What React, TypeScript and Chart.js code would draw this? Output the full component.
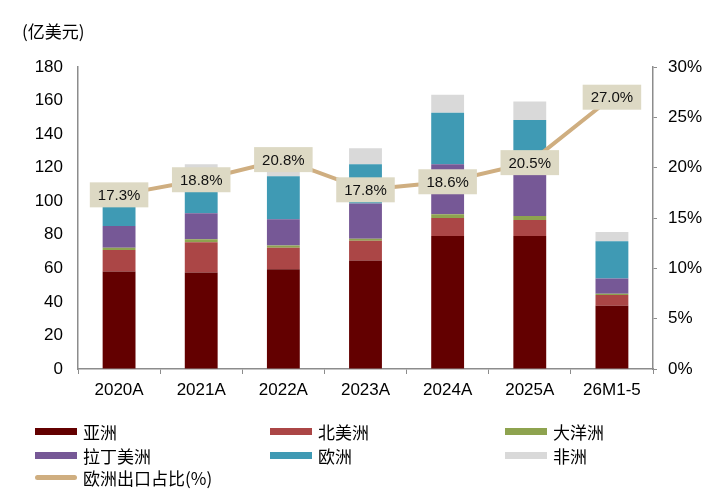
import React, { useEffect, useRef } from "react";
import { Chart, registerables } from "chart.js";

Chart.register(...registerables);

const categories = ["2020A", "2021A", "2022A", "2023A", "2024A", "2025A", "26M1-5"];
const asia = [58.1, 57.5, 59.5, 64.6, 79.2, 79.2, 37.7];
const northAmerica = [12.9, 18.1, 12.7, 11.8, 10.8, 9.6, 6.4];
const oceania = [1.2, 1.8, 1.4, 1.2, 2.2, 2.4, 0.8];
const latinAmerica = [13.0, 15.4, 15.6, 21.1, 29.9, 24.5, 9.0];
const europe = [18.5, 23.0, 25.7, 23.4, 30.7, 32.7, 22.3];
const africa = [3.0, 6.3, 8.6, 9.4, 10.6, 11.0, 5.4];
const europeShare = [17.3, 18.8, 20.8, 17.8, 18.6, 20.5, 27.0];

const unitLabel = "(亿美元)";

const COLORS = {
  asia: "#630000",
  na: "#ab4646",
  oce: "#8ea34f",
  lat: "#765896",
  eu: "#3f9ab4",
  af: "#d9d9d9",
  line: "#cfae80",
  labelBg: "#ddd9c4",
};

const NUM_FONT = "'Liberation Sans', Arial, sans-serif";
const CJK_FONT = "'Noto Sans CJK SC', 'Noto Sans', sans-serif";

const legendItems = [
  { label: "亚洲", color: COLORS.asia, kind: "box", col: 0, row: 0 },
  { label: "北美洲", color: COLORS.na, kind: "box", col: 1, row: 0 },
  { label: "大洋洲", color: COLORS.oce, kind: "box", col: 2, row: 0 },
  { label: "拉丁美洲", color: COLORS.lat, kind: "box", col: 0, row: 1 },
  { label: "欧洲", color: COLORS.eu, kind: "box", col: 1, row: 1 },
  { label: "非洲", color: COLORS.af, kind: "box", col: 2, row: 1 },
  { label: "欧洲出口占比(%)", color: COLORS.line, kind: "line", col: 0, row: 2 },
];

const labelPlugin = {
  id: "shareLabels",
  afterDatasetsDraw(chart: any) {
    const ctx = chart.ctx;
    const idx = chart.data.datasets.findIndex((d: any) => d.type === "line");
    if (idx < 0) return;
    const meta = chart.getDatasetMeta(idx);
    ctx.save();
    ctx.font = `15px ${NUM_FONT}`;
    ctx.textAlign = "center";
    ctx.textBaseline = "middle";
    meta.data.forEach((pt: any, i: number) => {
      const text = europeShare[i].toFixed(1) + "%";
      const w = ctx.measureText(text).width + 16;
      const h = 25;
      ctx.fillStyle = COLORS.labelBg;
      ctx.fillRect(pt.x - w / 2, pt.y - h / 2, w, h);
      ctx.fillStyle = "#111";
      ctx.fillText(text, pt.x, pt.y + 1);
    });
    ctx.restore();
  },
};

function ChartView() {
  const ref = useRef<HTMLCanvasElement | null>(null);
  useEffect(() => {
    if (!ref.current) return;
    const barDs = (label: string, data: number[], color: string) => ({
      type: "bar" as const,
      label,
      data,
      backgroundColor: color,
      borderWidth: 0,
      yAxisID: "y",
      stack: "s",
      order: 1,
      barPercentage: 0.4,
      categoryPercentage: 1.0,
    });
    const chart = new Chart(ref.current, {
      type: "bar",
      data: {
        labels: categories,
        datasets: [
          barDs("亚洲", asia, COLORS.asia),
          barDs("北美洲", northAmerica, COLORS.na),
          barDs("大洋洲", oceania, COLORS.oce),
          barDs("拉丁美洲", latinAmerica, COLORS.lat),
          barDs("欧洲", europe, COLORS.eu),
          barDs("非洲", africa, COLORS.af),
          {
            type: "line" as const,
            label: "欧洲出口占比(%)",
            data: europeShare,
            borderColor: COLORS.line,
            backgroundColor: COLORS.line,
            borderWidth: 4,
            pointRadius: 0,
            yAxisID: "y1",
            order: 0,
            tension: 0,
          } as any,
        ],
      },
      options: {
        animation: false,
        responsive: false,
        maintainAspectRatio: false,
        layout: { padding: { top: 67, left: 0, right: 0, bottom: 0 } },
        plugins: {
          legend: { display: false },
          tooltip: { enabled: false },
        },
        scales: {
          x: {
            stacked: true,
            grid: {
              offset: true,
              drawOnChartArea: false,
              drawTicks: true,
              tickLength: 5,
              color: "#8c8c8c",
            },
            border: { color: "#8c8c8c", width: 1.5 },
            ticks: {
              font: { size: 17, family: NUM_FONT },
              color: "#000",
              padding: 6,
              maxRotation: 0,
              autoSkip: false,
            },
            afterFit: (s: any) => {
              s.height = 504 - 369;
            },
          },
          y: {
            stacked: true,
            position: "left",
            min: 0,
            max: 180,
            ticks: {
              stepSize: 20,
              font: { size: 17, family: NUM_FONT },
              color: "#000",
              padding: 15,
            },
            grid: { drawOnChartArea: false, drawTicks: false },
            border: { color: "#8c8c8c", width: 1.5 },
            afterFit: (s: any) => {
              s.width = 78;
            },
          },
          y1: {
            position: "right",
            min: 0,
            max: 30,
            ticks: {
              stepSize: 5,
              font: { size: 17, family: NUM_FONT },
              color: "#000",
              padding: 11,
              callback: (v: any) => v + "%",
            },
            grid: {
              drawOnChartArea: false,
              drawTicks: true,
              tickLength: 4,
              color: "#8c8c8c",
            },
            border: { color: "#8c8c8c", width: 1.5 },
            afterFit: (s: any) => {
              s.width = 723 - 653;
            },
          },
        },
      } as any,
      plugins: [labelPlugin],
    });
    return () => chart.destroy();
  }, []);
  return <canvas ref={ref} width={723} height={504} style={{ position: "absolute", left: 0, top: 0, width: 723, height: 504 }} />;
}

export default function App() {
  const colX = [35, 270, 505];
  const rowY = [431, 455, 477];
  return (
    <div
      style={{
        position: "fixed",
        left: 0,
        top: 0,
        width: 723,
        height: 504,
        background: "#fff",
        overflow: "hidden",
      }}
    >
      <ChartView />
      <div
        style={{
          position: "absolute",
          left: 22,
          top: 19,
          fontFamily: CJK_FONT,
          fontSize: 17,
          lineHeight: "24px",
          color: "#000",
          whiteSpace: "nowrap",
        }}
      >
        {unitLabel}
      </div>
      {legendItems.map((it) => (
        <div
          key={it.label}
          style={{
            position: "absolute",
            left: colX[it.col],
            top: rowY[it.row] - 12,
            height: 24,
            display: "flex",
            alignItems: "center",
            fontFamily: CJK_FONT,
            fontSize: 17,
            color: "#000",
            whiteSpace: "nowrap",
          }}
        >
          <span
            style={{
              display: "inline-block",
              width: 42,
              height: it.kind === "line" ? 5 : 7,
              borderRadius: it.kind === "line" ? 3 : 0,
              background: it.color,
              marginRight: 6,
            }}
          />
          <span>{it.label}</span>
        </div>
      ))}
    </div>
  );
}
